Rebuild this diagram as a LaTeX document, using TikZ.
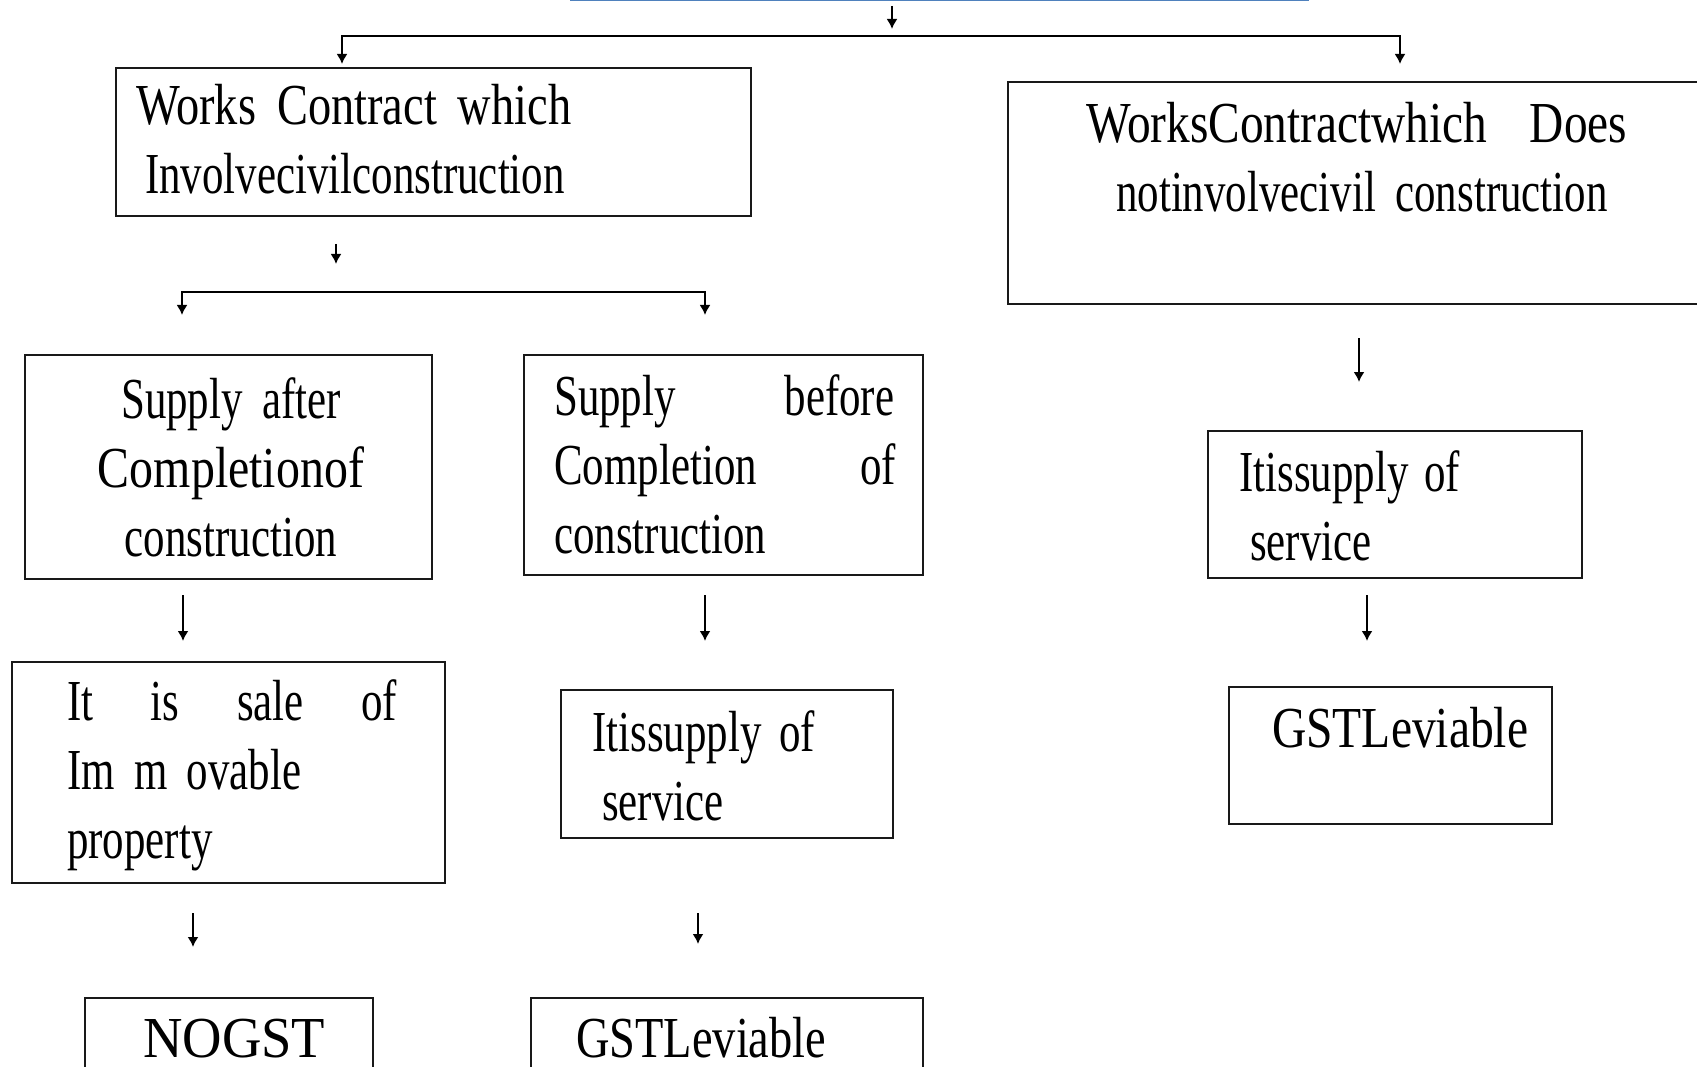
\documentclass[tikz,border=0pt]{standalone}
\usepackage{fontspec}
\setmainfont{Liberation Serif}[FakeStretch=0.74]
\usepackage{graphicx}
\usetikzlibrary{arrows.meta}

\definecolor{ruleblue}{HTML}{4F81BD}
\newcommand{\spread}[2]{\leavevmode\hbox to #1{#2}}
\newcommand{\fitw}[2]{\resizebox{#1}{\height}{#2}}

\tikzset{
  box/.style={draw=black!90, line width=1.8pt, anchor=north west, inner sep=0pt},
  txt/.style={anchor=base west, inner sep=0pt, align=left, text width=#1,
    font=\fontsize{58}{69}\selectfont},
  txt/.default=560pt,
  arr/.style={-{Latex[length=10pt,width=11pt]}, line width=1.8pt},
  fork/.style={{Latex[length=10pt,width=11pt]}-{Latex[length=10pt,width=11pt]}, line width=1.8pt}
}

\begin{document}
\begin{tikzpicture}[x=1pt,y=-1pt]
    \useasboundingbox (0,0) rectangle (1697,1067);
    \clip (0,0) rectangle (1697,1067);
    % bottom edge of the box above the page
    \node[draw=ruleblue, line width=3pt, anchor=south west, minimum width=736pt, minimum height=60pt, inner sep=0pt] (root) at (570,1) {};

    % boxes
    \node[box, minimum width=635pt, minimum height=148pt] (civil) at (115,67) {};
    \node[box, minimum width=720pt, minimum height=222pt] (noncivil) at (1007,81) {};
    \node[box, minimum width=407pt, minimum height=224pt] (after) at (24,354) {};
    \node[box, minimum width=399pt, minimum height=220pt] (before) at (523,354) {};
    \node[box, minimum width=374pt, minimum height=147pt] (svcR) at (1207,430) {};
    \node[box, minimum width=433pt, minimum height=221pt] (immov) at (11,661) {};
    \node[box, minimum width=332pt, minimum height=148pt] (svcL) at (560,689) {};
    \node[box, minimum width=323pt, minimum height=137pt] (levyR) at (1228,686) {};
    \node[box, minimum width=288pt, minimum height=100pt] (nogst) at (84,997) {};
    \node[box, minimum width=392pt, minimum height=100pt] (levyL) at (530,997) {};

    % texts
    \node[txt] (civil-t) at (136,125) {\fitw{435pt}{Works Contract which}\\\hspace*{9pt}Involvecivilconstruction};
    \node[txt] (noncivil-t) at (1086,143) {\fitw{541pt}{WorksContractwhich\ \ Does}\\\hspace*{30pt}notinvolvecivil construction};
    \node[txt, anchor=base, align=center] (after-t) at (231,418) {Supply after\\\fitw{266pt}{Completionof}\\construction};
    \node[txt] (before-t) at (554,415) {\spread{340pt}{Supply\hfill before}\\\spread{342pt}{Completion\hfill of}\\construction};
    \node[txt] (svcR-t) at (1239,491) {\spread{221pt}{Itissupply\hfill of}\\\hspace*{11pt}service};
    \node[txt] (immov-t) at (67,720) {\spread{330pt}{It\hfill is\hfill sale\hfill of}\\Im m ovable\\property};
    \node[txt] (svcL-t) at (592,751) {\spread{223pt}{Itissupply\hfill of}\\\hspace*{10pt}service};
    \node[txt] (levyR-t) at (1272,747) {\fitw{256pt}{GSTLeviable}};
    \node[txt] (nogst-t) at (143,1057) {\fitw{182pt}{NOGST}};
    \node[txt] (levyL-t) at (576,1057) {\fitw{250pt}{GSTLeviable}};

    % arrow ends
    \coordinate (top0) at (892,6);
    \coordinate (top1) at (892,29);
    \coordinate (topL) at (342,64);
    \coordinate (topR) at (1400,64);
    \coordinate (topbar) at (1400,36);
    \coordinate (civ0) at (336,244);
    \coordinate (civ1) at (336,264);
    \coordinate (civL) at (182,315);
    \coordinate (civR) at (705,315);
    \coordinate (civbar) at (705,292);
    \coordinate (aft0) at (183,595);
    \coordinate (aft1) at (183,641);
    \coordinate (bef0) at (705,595);
    \coordinate (bef1) at (705,641);
    \coordinate (non0) at (1359,338);
    \coordinate (non1) at (1359,382);
    \coordinate (svr0) at (1367,595);
    \coordinate (svr1) at (1367,641);
    \coordinate (imm0) at (193,913);
    \coordinate (imm1) at (193,947);
    \coordinate (svl0) at (698,913);
    \coordinate (svl1) at (698,944);

    % connectors
    \draw[arr] (top0) -- (top1);
    \draw[fork] (topL) |- (topbar) -- (topR);
    \draw[arr] (civ0) -- (civ1);
    \draw[fork] (civL) |- (civbar) -- (civR);
    \draw[arr] (aft0) -- (aft1);
    \draw[arr] (bef0) -- (bef1);
    \draw[arr] (non0) -- (non1);
    \draw[arr] (svr0) -- (svr1);
    \draw[arr] (imm0) -- (imm1);
    \draw[arr] (svl0) -- (svl1);
\end{tikzpicture}
\end{document}
